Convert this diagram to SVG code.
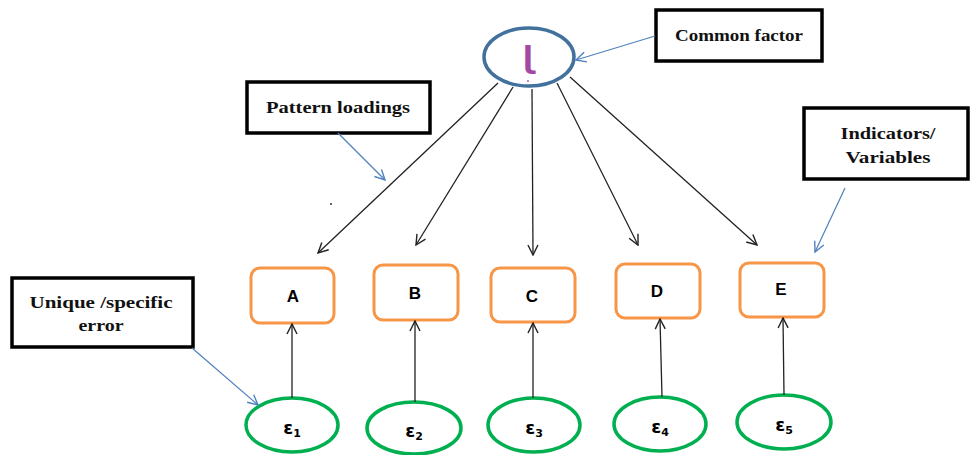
<svg xmlns="http://www.w3.org/2000/svg" width="973" height="455" viewBox="0 0 973 455">
<defs>
<marker id="ah" viewBox="0 0 12 12" refX="11" refY="6" markerWidth="12" markerHeight="12" markerUnits="userSpaceOnUse" orient="auto">
<path d="M1,1 L11,6 L1,11" fill="none" stroke="#222" stroke-width="1.4"/>
</marker>
<marker id="bh" viewBox="0 0 12 12" refX="11" refY="6" markerWidth="12" markerHeight="12" markerUnits="userSpaceOnUse" orient="auto">
<path d="M1,1 L11,6 L1,11" fill="none" stroke="#4F81BD" stroke-width="1.4"/>
</marker>
</defs>
<style>
.call{fill:#fff;stroke:#000;stroke-width:3.5}
.ct{font-family:"Liberation Serif","DejaVu Serif",serif;font-weight:bold;font-size:16px;fill:#111;text-anchor:middle}
.ind{fill:#fff;stroke:#F79646;stroke-width:3}
.it{font-family:"Liberation Sans",Arial,sans-serif;font-weight:bold;font-size:17px;fill:#000;text-anchor:middle}
.err{fill:#fff;stroke:#00B050;stroke-width:3.5}
.et{font-family:"DejaVu Sans","Liberation Sans",sans-serif;font-weight:bold;font-size:18px;fill:#000;text-anchor:middle}
.sub{font-size:11px}
.ln{stroke:#222;stroke-width:1.3;fill:none;marker-end:url(#ah)}
.bl{stroke:#4F81BD;stroke-width:1.2;fill:none;marker-end:url(#bh)}
</style>

<g id="common-factor">
<ellipse cx="529" cy="57" rx="45" ry="29" fill="#fff" stroke="#41719C" stroke-width="3.5"/>
<text x="528" y="68" font-family="DejaVu Sans,sans-serif" font-weight="bold" font-size="30" fill="#A349A4" text-anchor="middle">ɭ</text>
<circle cx="528" cy="81" r="0.9" fill="#A349A4"/>
</g>

<g id="callout-common">
<rect class="call" x="656" y="10" width="166" height="51"/>
<text class="ct" x="739" y="41" textLength="128" lengthAdjust="spacingAndGlyphs">Common factor</text>
</g>
<g id="callout-pattern">
<rect class="call" x="247" y="82" width="183" height="51"/>
<text class="ct" x="338" y="113" textLength="144" lengthAdjust="spacingAndGlyphs">Pattern loadings</text>
</g>
<g id="callout-indicators">
<rect class="call" x="804" y="108" width="164" height="71"/>
<text class="ct" x="888" y="139" textLength="95" lengthAdjust="spacingAndGlyphs">Indicators/</text>
<text class="ct" x="888" y="163" textLength="85" lengthAdjust="spacingAndGlyphs">Variables</text>
</g>
<g id="callout-unique">
<rect class="call" x="12" y="278" width="181" height="69"/>
<text class="ct" x="101" y="308" textLength="143" lengthAdjust="spacingAndGlyphs">Unique /specific</text>
<text class="ct" x="101" y="331" textLength="45" lengthAdjust="spacingAndGlyphs">error</text>
</g>

<g id="A"><rect class="ind" x="251" y="268" width="83" height="55" rx="9"/><text class="it" x="293" y="302">A</text></g>
<g id="B"><rect class="ind" x="374" y="265" width="84" height="55" rx="9"/><text class="it" x="415" y="299">B</text></g>
<g id="C"><rect class="ind" x="491" y="268" width="84" height="54" rx="9"/><text class="it" x="532" y="302">C</text></g>
<g id="D"><rect class="ind" x="616" y="264" width="84" height="54" rx="9"/><text class="it" x="657" y="297">D</text></g>
<g id="E"><rect class="ind" x="740" y="263" width="84" height="54" rx="9"/><text class="it" x="781" y="295">E</text></g>

<g id="e1"><ellipse class="err" cx="292" cy="425" rx="46" ry="27"/><text class="et" x="292" y="434">ε<tspan class="sub" dy="3">1</tspan></text></g>
<g id="e2"><ellipse class="err" cx="414" cy="428" rx="47" ry="26"/><text class="et" x="414" y="437">ε<tspan class="sub" dy="3">2</tspan></text></g>
<g id="e3"><ellipse class="err" cx="534" cy="425" rx="46" ry="27"/><text class="et" x="534" y="434">ε<tspan class="sub" dy="3">3</tspan></text></g>
<g id="e4"><ellipse class="err" cx="660" cy="424" rx="46" ry="27"/><text class="et" x="660" y="433">ε<tspan class="sub" dy="3">4</tspan></text></g>
<g id="e5"><ellipse class="err" cx="784" cy="422" rx="47" ry="27"/><text class="et" x="784" y="431">ε<tspan class="sub" dy="3">5</tspan></text></g>

<g id="connectors">
<line class="ln" x1="498" y1="83" x2="318" y2="253"/>
<line class="ln" x1="513" y1="87" x2="416" y2="245"/>
<line class="ln" x1="532" y1="89" x2="533" y2="255"/>
<line class="ln" x1="557" y1="83" x2="638" y2="245"/>
<line class="ln" x1="570" y1="77" x2="757" y2="245"/>
<line class="ln" x1="292" y1="398" x2="292" y2="324"/>
<line class="ln" x1="415" y1="402" x2="415" y2="321"/>
<line class="ln" x1="533" y1="398" x2="533" y2="323"/>
<line class="ln" x1="662" y1="397" x2="660" y2="319"/>
<line class="ln" x1="784" y1="395" x2="783" y2="318"/>
<line class="bl" x1="655" y1="36" x2="576" y2="60"/>
<line class="bl" x1="338" y1="133" x2="385" y2="180"/>
<line class="bl" x1="845" y1="188" x2="815" y2="252"/>
<line class="bl" x1="192" y1="348" x2="258" y2="405"/>
</g>
<circle cx="331" cy="204" r="1" fill="#333"/>
</svg>
